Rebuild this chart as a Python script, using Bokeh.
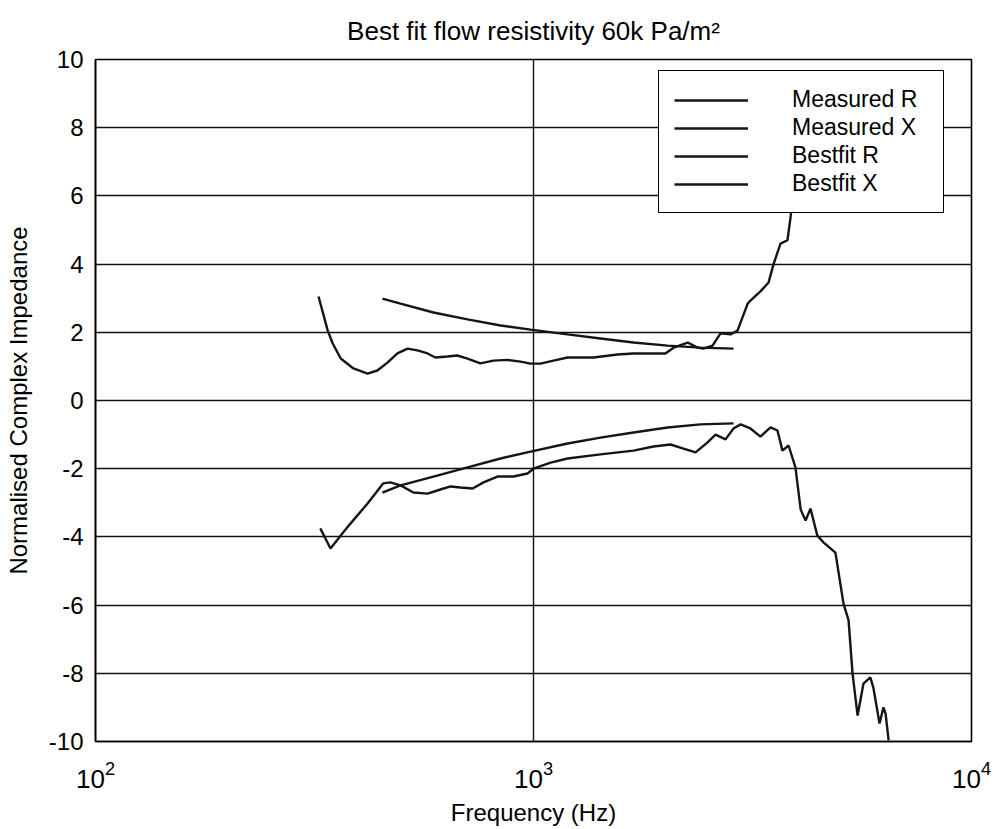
from bokeh.plotting import figure
from bokeh.models import Legend, LegendItem, FixedTicker, LogTickFormatter
from bokeh.embed import file_html
from bokeh.resources import INLINE

# ---- data ----
measured_r_freq = [323, 339, 348, 363, 388, 418, 440, 464, 489, 516, 543, 573, 597, 636, 670,
                   707, 756, 810, 873, 934, 985, 1037, 1111, 1196, 1281, 1371, 1556, 1692, 1849,
                   2000, 2089, 2249, 2368, 2443, 2563, 2673, 2817, 2923, 3083, 3128, 3297, 3441,
                   3532, 3664, 3801, 3862, 3960, 4074, 4180]
measured_r_val = [3.05, 2.05, 1.67, 1.23, 0.94, 0.79, 0.88, 1.11, 1.38, 1.52, 1.47, 1.38, 1.26, 1.29, 1.32,
                  1.23, 1.09, 1.17, 1.19, 1.14, 1.08, 1.08, 1.17, 1.26, 1.26, 1.26, 1.35, 1.38, 1.38,
                  1.38, 1.55, 1.70, 1.55, 1.52, 1.61, 1.97, 1.94, 2.05, 2.84, 2.93, 3.20, 3.46,
                  4.00, 4.60, 4.70, 5.37, 6.60, 8.00, 9.60]

measured_x_freq = [326, 344, 363, 382, 418, 454, 471, 497, 532, 573, 613, 647, 681, 726, 769,
                   827, 900, 969, 1000, 1094, 1196, 1422, 1692, 1879, 2055, 2200, 2344, 2497, 2604,
                   2744, 2862, 2970, 3128, 3297, 3477, 3606, 3701, 3822, 3963, 4074, 4180, 4289,
                   4446, 4592, 4890, 5101, 5240, 5350, 5495, 5667, 5874, 5970, 6166, 6295, 6366, 6468]
measured_x_val = [-3.75, -4.34, -3.96, -3.61, -3.02, -2.43, -2.40, -2.49, -2.70, -2.73, -2.61, -2.52, -2.55, -2.58, -2.40,
                  -2.23, -2.23, -2.14, -2.00, -1.82, -1.70, -1.58, -1.47, -1.35, -1.29, -1.41, -1.52, -1.23, -1.00,
                  -1.14, -0.82, -0.70, -0.82, -1.06, -0.79, -0.88, -1.47, -1.32, -1.96, -3.20, -3.52, -3.17,
                  -3.96, -4.16, -4.46, -5.95, -6.45, -8.00, -9.24, -8.30, -8.12, -8.42, -9.47, -9.00, -9.18, -9.97]

bestfit_freq = [452, 497, 591, 707, 841, 985, 1196, 1422, 1692, 2023, 2405, 2862]
bestfit_r_val = [2.99, 2.84, 2.58, 2.38, 2.20, 2.08, 1.94, 1.82, 1.70, 1.61, 1.55, 1.52]
bestfit_x_val = [-2.70, -2.49, -2.23, -1.96, -1.70, -1.50, -1.26, -1.09, -0.94, -0.79, -0.70, -0.67]

series_names = ["Measured R", "Measured X", "Bestfit R", "Bestfit X"]
x_ticks = [100, 1000, 10000]
y_ticks = [-10, -8, -6, -4, -2, 0, 2, 4, 6, 8, 10]
y_tick_labels = ["-10", "-8", "-6", "-4", "-2", "0", "2", "4", "6", "8", "10"]
title_text = "Best fit flow resistivity 60k Pa/m\u00b2"
x_label = "Frequency (Hz)"
y_label = "Normalised Complex Impedance"

FONT = "Liberation Sans"

p = figure(width=994, height=829, x_axis_type="log", x_range=(100, 10000), y_range=(-10, 10),
           output_backend="svg", toolbar_location=None,
           min_border_left=95, min_border_right=23, min_border_top=59, min_border_bottom=88)
p.background_fill_color = "white"
p.border_fill_color = "white"
p.outline_line_color = "black"
p.outline_line_width = 1.6
p.outline_line_alpha = 1.0

p.title.text = title_text
p.title.align = "center"
p.title.text_font = FONT
p.title.text_font_size = "26px"
p.title.text_font_style = "normal"
p.title.text_color = "black"
p.title.standoff = 27

p.xaxis.ticker = FixedTicker(ticks=x_ticks)
p.xaxis.formatter = LogTickFormatter()
p.yaxis.ticker = FixedTicker(ticks=y_ticks)
p.yaxis.major_label_overrides = {t: s for t, s in zip(y_ticks, y_tick_labels)}
p.xgrid.ticker = FixedTicker(ticks=x_ticks)
p.ygrid.ticker = FixedTicker(ticks=y_ticks)
for g in (p.xgrid, p.ygrid):
    g.grid_line_color = "#111111"
    g.grid_line_width = 1.4
    g.grid_line_alpha = 1.0

for ax in (p.xaxis, p.yaxis):
    ax.axis_line_color = "black"
    ax.axis_line_width = 1.6
    ax.major_tick_in = 0
    ax.major_tick_out = 0
    ax.minor_tick_line_color = None
    ax.major_label_text_font = FONT
    ax.major_label_text_font_size = "24px"
    ax.major_label_text_color = "black"
    ax.axis_label_text_font = FONT
    ax.axis_label_text_font_style = "normal"
    ax.axis_label_text_color = "black"
    ax.axis_label_text_font_size = "24px"

p.xaxis.major_label_text_font_size = "26px"
p.yaxis.major_label_standoff = 12
p.xaxis.major_label_standoff = 19
p.xaxis.axis_label = x_label
p.yaxis.axis_label = y_label
p.xaxis.axis_label_standoff = 8
p.yaxis.axis_label_standoff = 14

col = "#151515"
r1 = p.line(measured_r_freq, measured_r_val, line_color=col, line_width=2.4)
r2 = p.line(measured_x_freq, measured_x_val, line_color=col, line_width=2.4)
r3 = p.line(bestfit_freq, bestfit_r_val, line_color=col, line_width=2.4)
r4 = p.line(bestfit_freq, bestfit_x_val, line_color=col, line_width=2.4)

legend = Legend(items=[LegendItem(label=n, renderers=[r]) for n, r in zip(series_names, [r1, r2, r3, r4])],
                location=(563, 528), margin=0, padding=15, spacing=1,
                glyph_width=74, glyph_height=24, label_height=24, label_width=136, label_standoff=44,
                label_text_font=FONT, label_text_font_size="23px", label_text_color="black",
                border_line_color="black", border_line_width=1.5, border_line_alpha=1.0,
                background_fill_color="white", background_fill_alpha=1.0)
p.add_layout(legend)

open("out.html", "w").write(file_html(p, INLINE))
